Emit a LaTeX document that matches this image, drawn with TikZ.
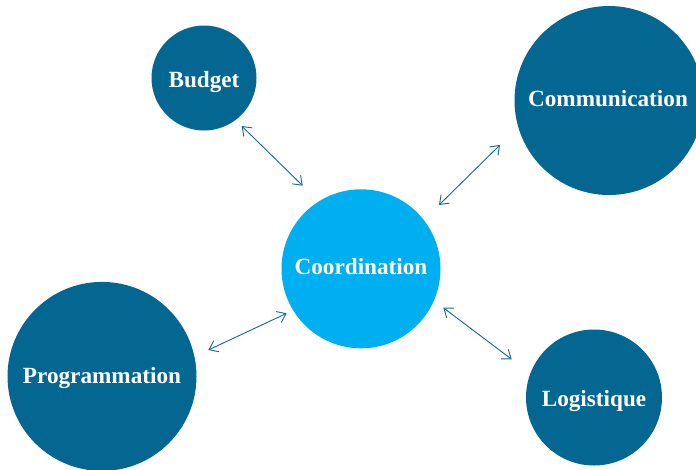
\documentclass[tikz,border=0pt]{standalone}
\usepackage{fontspec}
\setmainfont{Liberation Serif}
\usetikzlibrary{arrows.meta}

\definecolor{darkblue}{RGB}{4,103,145}
\definecolor{lightblue}{RGB}{0,175,239}
\definecolor{arrowblue}{RGB}{26,108,148}

\tikzset{every picture/.style={line width=0.75pt}}
\tikzset{
  bubble/.style={circle, draw=none, fill=darkblue, inner sep=0pt, text=white,
    font=\fontsize{17.4}{20}\selectfont\bfseries},
  link/.style={draw=arrowblue, line width=0.7pt,
    {Straight Barb[length=6pt,width=9pt]}-{Straight Barb[length=6pt,width=9pt]}}
}

\begin{document}
\begin{tikzpicture}[x=0.75pt,y=0.75pt,yscale=-1,xscale=1]
	\useasboundingbox (0,0) rectangle (696,469);
	
	%Shape: Circle [id:budget]
	\node [bubble, minimum size=105*0.75pt] (bud) at (204,78) {};
	%Shape: Circle [id:communication]
	\node [bubble, minimum size=189*0.75pt] (com) at (609,100.5) {};
	%Shape: Circle [id:coordination]
	\node [bubble, fill=lightblue, minimum size=159*0.75pt] (coo) at (361,268.8) {};
	%Shape: Circle [id:programmation]
	\node [bubble, minimum size=189*0.75pt] (pro) at (102,376.4) {};
	%Shape: Circle [id:logistique]
	\node [bubble, minimum size=136*0.75pt] (log) at (594,397.5) {};
	
	% Text Node
	\node [text=white, font=\fontsize{17.4}{20}\selectfont\bfseries] (budtxt) at (204,82) {Budget};
	% Text Node
	\node [text=white, font=\fontsize{17.4}{20}\selectfont\bfseries] (comtxt) at (608,98.5) {Communication};
	% Text Node
	\node [text=white, font=\fontsize{17.4}{20}\selectfont\bfseries] (cootxt) at (361,267) {Coordination};
	% Text Node
	\node [text=white, font=\fontsize{17.4}{20}\selectfont\bfseries] (protxt) at (102,378) {Programmation};
	% Text Node
	\node [text=white, font=\fontsize{17.4}{20}\selectfont\bfseries] (logtxt) at (594,401) {Logistique};
	
	%Straight Lines [id:budget-coordination]
	\coordinate (bud-end) at (241.7,126);
	\coordinate (coo-nw) at (302.7,185.7);
	\draw [link] (bud-end) -- (coo-nw);
	%Straight Lines [id:communication-coordination]
	\coordinate (com-end) at (500,145);
	\coordinate (coo-ne) at (439,205);
	\draw [link] (com-end) -- (coo-ne);
	%Straight Lines [id:programmation-coordination]
	\coordinate (pro-end) at (208.3,350);
	\coordinate (coo-sw) at (286.7,313.3);
	\draw [link] (pro-end) -- (coo-sw);
	%Straight Lines [id:logistique-coordination]
	\coordinate (log-end) at (511.7,359.3);
	\coordinate (coo-se) at (443.3,307.7);
	\draw [link] (log-end) -- (coo-se);
	
\end{tikzpicture}
\end{document}
